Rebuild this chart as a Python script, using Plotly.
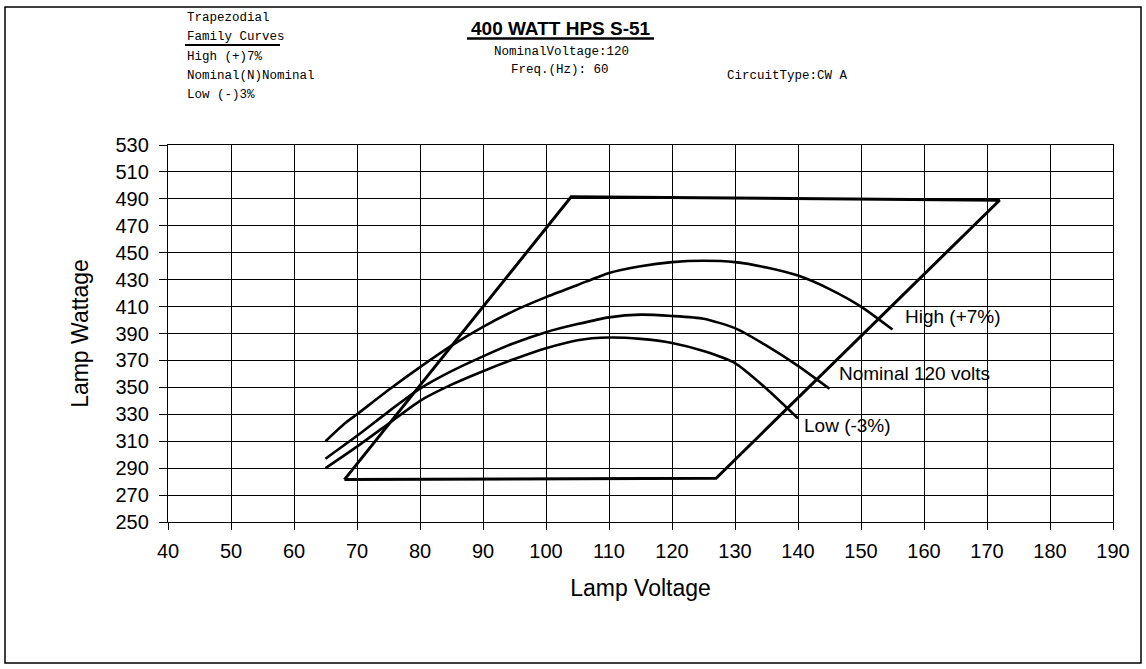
import plotly.graph_objects as go

# lamp voltage / wattage readings
high_v = [65, 68, 70, 75, 80, 85, 90, 95, 100, 105, 110, 115, 120, 125, 130, 135, 140, 145, 150, 155]
high_w = [310, 323, 330, 348, 365, 381, 395, 407, 417, 426, 435, 440, 443, 444, 443, 439, 433, 423, 410, 393]

nom_v = [65, 70, 75, 80, 85, 90, 95, 100, 105, 110, 115, 120, 125, 130, 135, 140, 145]
nom_w = [297, 314, 332, 349, 362, 373, 383, 391, 397, 402, 404, 403, 401, 394, 381, 366, 349]

low_v = [65, 70, 75, 80, 85, 90, 95, 100, 105, 110, 115, 120, 125, 130, 135, 140]
low_w = [290, 306, 323, 340, 352, 362, 371, 379, 385, 387, 386, 383, 377, 368, 349, 327]

trap_v = [68, 104, 172, 127, 68]
trap_w = [281.5, 491.5, 489, 282.5, 281.5]

header_left = ["Trapezodial", "Family Curves", "High (+)7%", "Nominal(N)Nominal", "Low (-)3%"]

# plot area in pixels, used to place the header text
L, R, T, B = 168, 1113, 145, 522


def px(x):
    return (x - L) / (R - L)


def py(y):
    return (B - y) / (B - T)


fig = go.Figure()

fig.add_trace(go.Scatter(x=trap_v, y=trap_w, mode="lines",
                         line=dict(color="black", width=3)))
for v, w in [(high_v, high_w), (nom_v, nom_w), (low_v, low_w)]:
    fig.add_trace(go.Scatter(x=v, y=w, mode="lines",
                             line=dict(color="black", width=2.6, shape="spline", smoothing=0.6)))

lab_font = dict(family="Arial, Liberation Sans, sans-serif", size=19, color="black")
fig.add_annotation(x=156.6, y=403, text="High (+7%)", showarrow=False, xanchor="left", font=lab_font)
fig.add_annotation(x=146.2, y=360.5, text="Nominal 120 volts", showarrow=False, xanchor="left", font=lab_font)
fig.add_annotation(x=140.6, y=322, text="Low (-3%)", showarrow=False, xanchor="left", font=lab_font)

mono = dict(family="Courier New, Liberation Mono, monospace", size=12.5, color="black")
for i, t in enumerate(header_left):
    fig.add_annotation(xref="paper", yref="paper", x=px(185), y=py(18 + 19.3 * i), text=t,
                       showarrow=False, xanchor="left", yanchor="middle", font=mono)

fig.add_annotation(xref="paper", yref="paper", x=px(561), y=py(28), text="<b>400 WATT HPS S-51</b>",
                   showarrow=False, xanchor="center", yanchor="middle",
                   font=dict(family="Arial, Liberation Sans, sans-serif", size=19, color="black"))
fig.add_annotation(xref="paper", yref="paper", x=px(561), y=py(52), text="NominalVoltage:120",
                   showarrow=False, xanchor="center", yanchor="middle", font=mono)
fig.add_annotation(xref="paper", yref="paper", x=px(560), y=py(70), text="Freq.(Hz): 60",
                   showarrow=False, xanchor="center", yanchor="middle", font=mono)
fig.add_annotation(xref="paper", yref="paper", x=px(725), y=py(76), text="CircuitType:CW A",
                   showarrow=False, xanchor="left", yanchor="middle", font=mono)

# underlines and outer frame
fig.add_shape(type="line", xref="paper", yref="paper", x0=px(467), x1=px(654), y0=py(38.5), y1=py(38.5),
              line=dict(color="black", width=2.5))
fig.add_shape(type="line", xref="paper", yref="paper", x0=px(185), x1=px(280), y0=py(45), y1=py(45),
              line=dict(color="black", width=2))
fig.add_shape(type="rect", xref="paper", yref="paper", x0=px(5), x1=px(1141), y0=py(663), y1=py(7),
              line=dict(color="black", width=1.5))

axis_font = dict(family="Arial, Liberation Sans, sans-serif", size=20, color="black")
fig.update_xaxes(range=[40, 190], tick0=40, dtick=10, showgrid=True, gridcolor="black", gridwidth=1.4,
                 showline=True, linecolor="black", linewidth=1.4, mirror=True, zeroline=False,
                 ticks="outside", ticklen=7, tickcolor="black", tickwidth=1.4, tickfont=axis_font,
                 ticklabelstandoff=4,
                 title=dict(text="Lamp Voltage", font=dict(family="Arial, Liberation Sans, sans-serif", size=23),
                            standoff=18))
fig.update_yaxes(range=[250, 530], tick0=250, dtick=20, showgrid=True, gridcolor="black", gridwidth=1.4,
                 showline=True, linecolor="black", linewidth=1.4, mirror=True, zeroline=False,
                 ticks="outside", ticklen=8, tickcolor="black", tickwidth=1.4, tickfont=axis_font,
                 ticklabelstandoff=6,
                 title=dict(text="Lamp Wattage", font=dict(family="Arial, Liberation Sans, sans-serif", size=23),
                            standoff=20))

fig.update_layout(width=1146, height=669, margin=dict(l=L, r=1146 - R, t=T, b=669 - B),
                  plot_bgcolor="white", paper_bgcolor="white", showlegend=False,
                  font=dict(family="Arial, Liberation Sans, sans-serif", color="black"))

fig.write_html("out.html", config={"displayModeBar": False},
               post_script="document.body.style.margin='0';")
